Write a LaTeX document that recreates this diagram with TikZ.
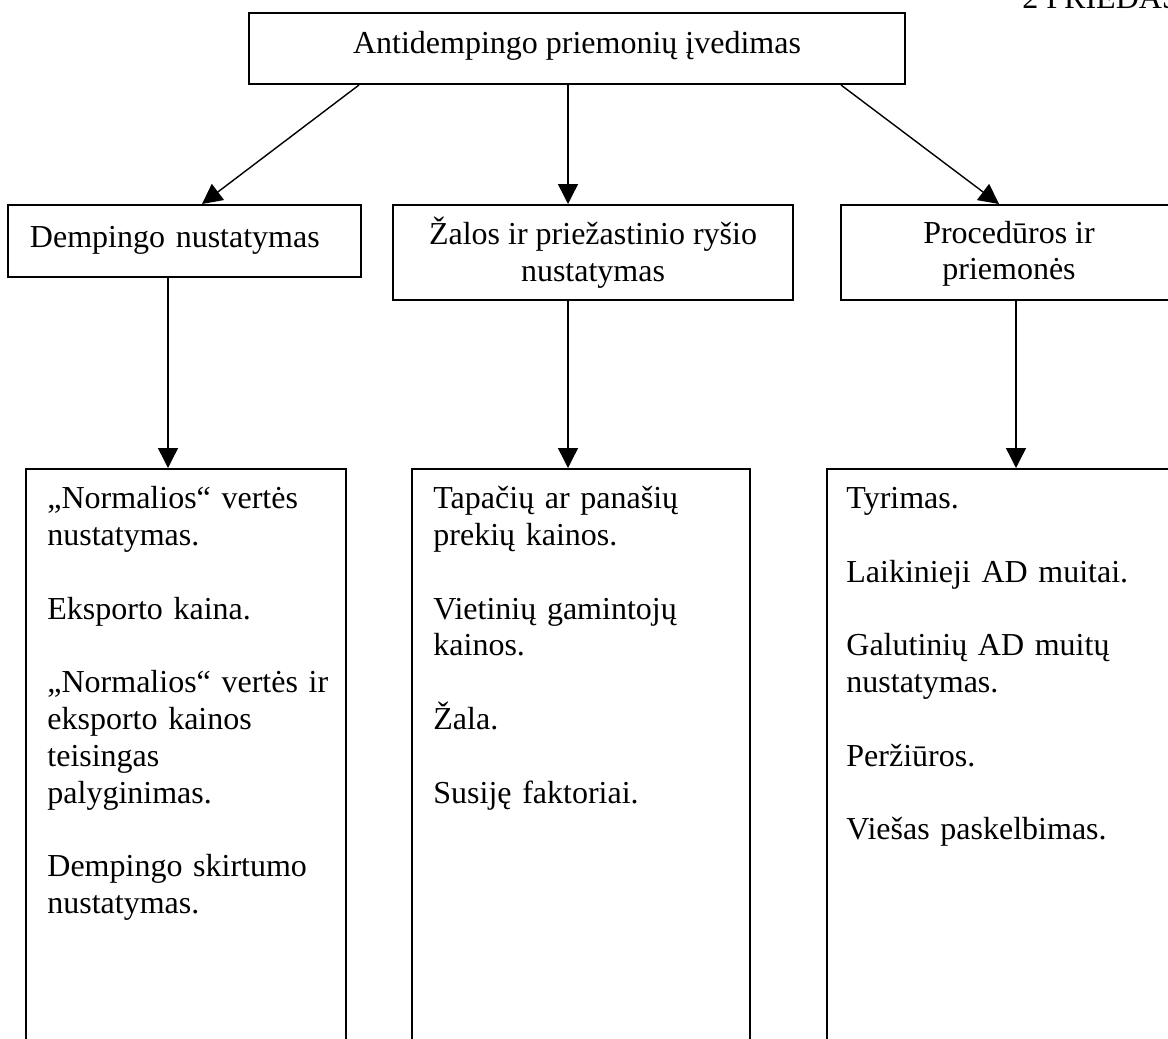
\documentclass[tikz,border=0pt]{standalone}
\usepackage{fontspec}
\setmainfont{Liberation Serif}
\usetikzlibrary{calc,arrows.meta}
\tikzset{
	txt/.style={font=\fontsize{16}{18.4}\selectfont},
	box/.style={txt, draw, line width=1pt, inner sep=0pt},
	listbox/.style={draw, line width=1pt, anchor=north west, minimum height=300pt, inner sep=0pt},
	listtext/.style={txt, anchor=north west, inner sep=0pt, align=left},
	arr/.style={line width=0.7pt, -{Triangle[length=10pt, width=10pt]}}
}
\def\gap{\\[18.4pt]}

\begin{document}
\begin{tikzpicture}[x=0.5pt, y=-0.5pt]
			%%%%% START %%%%%
			\useasboundingbox (0, 0) rectangle (1168, 1039);
			\clip (0, 0) rectangle (1168, 1039);
			
			\node[txt, anchor=base west, inner sep=0pt] (annex) at (1022, 8) {2 PRIEDAS};
			
			\node[box, minimum width=328pt, minimum height=35.5pt, text height=11pt, text depth=6.5pt] (top) at (577, 48.5) {Antidempingo priemonių įvedimas};
			
			\node[box, minimum width=176.5pt, minimum height=36pt, text height=11pt, text depth=5pt, inner xsep=11pt, text width=154.5pt, align=left] (dump) at (184.5, 241) {Dempingo nustatymas};
			\node[box, minimum width=200pt, minimum height=47.5pt, align=center] (harm) at (593, 252.5) {Žalos ir priežastinio ryšio\\nustatymas};
			\node[box, minimum width=168pt, minimum height=47.5pt, align=center] (proc) at (1009, 252.5) {\rule{0pt}{12.5pt}Procedūros ir\\priemonės};
			
			\draw[arr] ($(top.south west)+(111, 0)$) -- ($(dump.north west)+(195, 0)$);
			\draw[arr] ($(top.south west)+(320, 0)$) -- ($(harm.north west)+(176, 0)$);
			\draw[arr] ($(top.south west)+(593, 0)$) -- ($(proc.north west)+(159, 0)$);
			
			\node[listbox, minimum width=160pt] (dumplist) at (25, 468) {};
			\node[listbox, minimum width=169pt] (harmlist) at (411, 468) {};
			\node[listbox, minimum width=177pt] (proclist) at (826, 468) {};
			
			\draw[arr] ($(dump.south west)+(161, 0)$) coordinate (d1) -- (d1 |- dumplist.north);
			\draw[arr] ($(harm.south west)+(176, 0)$) coordinate (h1) -- (h1 |- harmlist.north);
			\draw[arr] ($(proc.south west)+(176, 0)$) coordinate (p1) -- (p1 |- proclist.north);
			
			\node[listtext, text width=150pt] (dumptext) at ($(dumplist.north west)+(22, 18)$)
				{„Normalios“ vertės\\nustatymas.\gap Eksporto kaina.\gap „Normalios“ vertės ir\\eksporto kainos\\teisingas\\palyginimas.\gap Dempingo skirtumo\\nustatymas.};
			\node[listtext, text width=158pt] (harmtext) at ($(harmlist.north west)+(22, 18)$)
				{Tapačių ar panašių\\prekių kainos.\gap Vietinių gamintojų\\kainos.\gap Žala.\gap Susiję faktoriai.};
			\node[listtext, text width=165pt] (proctext) at ($(proclist.north west)+(20, 19)$)
				{Tyrimas.\gap Laikinieji AD muitai.\gap Galutinių AD muitų\\nustatymas.\gap Peržiūros.\gap Viešas paskelbimas.};
			%%%%% END %%%%%
\end{tikzpicture}
\end{document}
